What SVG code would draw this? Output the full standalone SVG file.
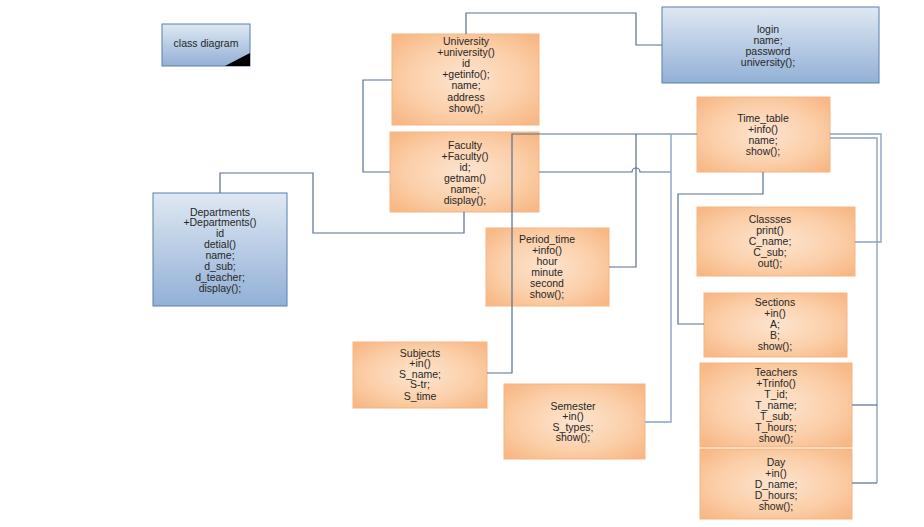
<svg xmlns="http://www.w3.org/2000/svg" width="924" height="527" viewBox="0 0 924 527">
  <defs>
    <radialGradient id="orangeFill" cx="50%" cy="50%" r="65%">
      <stop offset="0" stop-color="#fde4cf"/>
      <stop offset="0.6" stop-color="#fbcfa9"/>
      <stop offset="1" stop-color="#f8b886"/>
    </radialGradient>
    <linearGradient id="blueFill" x1="0" y1="0" x2="0" y2="1">
      <stop offset="0" stop-color="#dfe8f3"/>
      <stop offset="1" stop-color="#92b0d6"/>
    </linearGradient>
  </defs>
  <style>
    .cls rect.orange { fill: url(#orangeFill); stroke: #f5b582; stroke-width: 1; }
    .cls rect.blue { fill: url(#blueFill); stroke: #5a7ea8; stroke-width: 1; }
    .cls text { font-family: "Liberation Sans", Arial, sans-serif; font-size: 10.5px; fill: #262626; text-anchor: middle; }
    .wire { fill: none; stroke: #56708f; stroke-width: 1.2; }
    .wire.light { stroke: #8ba3c4; stroke-width: 1.4; }
  </style>
  <rect width="924" height="527" fill="#ffffff"/>

  <!-- title tag -->
  <g id="class-diagram" class="cls">
    <rect class="blue" x="162" y="24" width="88" height="42"/>
    <polygon points="225,66 250,66 250,53" fill="#000000"/>
    <text x="206" y="47">class diagram</text>
  </g>

  <g id="university" class="cls">
    <rect class="orange" x="392" y="34" width="147" height="91"/>
    <text x="466" y="44.5">University</text>
    <text x="466" y="55.7">+university()</text>
    <text x="466" y="66.9">id</text>
    <text x="466" y="78.1">+getinfo();</text>
    <text x="466" y="89.3">name;</text>
    <text x="466" y="100.5">address</text>
    <text x="466" y="111.7">show();</text>
  </g>

  <g id="login" class="cls">
    <rect class="blue" x="662" y="7" width="217" height="76"/>
    <text x="768" y="32.7">login</text>
    <text x="768" y="43.7">name;</text>
    <text x="768" y="54.7">password</text>
    <text x="768" y="65.7">university();</text>
  </g>

  <g id="faculty" class="cls">
    <rect class="orange" x="390" y="132" width="149" height="80"/>
    <text x="465" y="148.7">Faculty</text>
    <text x="465" y="159.7">+Faculty()</text>
    <text x="465" y="170.7">id;</text>
    <text x="465" y="181.7">getnam()</text>
    <text x="465" y="192.7">name;</text>
    <text x="465" y="203.7">display();</text>
  </g>

  <g id="time-table" class="cls">
    <rect class="orange" x="697" y="97" width="133" height="75"/>
    <text x="763" y="121.7">Time_table</text>
    <text x="763" y="132.7">+info()</text>
    <text x="763" y="143.7">name;</text>
    <text x="763" y="154.7">show();</text>
  </g>

  <g id="departments" class="cls">
    <rect class="blue" x="153" y="193" width="134" height="113"/>
    <text x="220" y="215.5">Departments</text>
    <text x="220" y="226.4">+Departments()</text>
    <text x="220" y="237.3">id</text>
    <text x="220" y="248.2">detial()</text>
    <text x="220" y="259.1">name;</text>
    <text x="220" y="270">d_sub;</text>
    <text x="220" y="280.9">d_teacher;</text>
    <text x="220" y="291.8">display();</text>
  </g>

  <g id="period-time" class="cls">
    <rect class="orange" x="486" y="228" width="123" height="78"/>
    <text x="547" y="242.7">Period_time</text>
    <text x="547" y="253.7">+info()</text>
    <text x="547" y="264.7">hour</text>
    <text x="547" y="275.7">minute</text>
    <text x="547" y="286.7">second</text>
    <text x="547" y="297.7">show();</text>
  </g>

  <g id="classses" class="cls">
    <rect class="orange" x="697" y="207" width="158" height="69"/>
    <text x="770" y="222.7">Classses</text>
    <text x="770" y="233.7">print()</text>
    <text x="770" y="244.7">C_name;</text>
    <text x="770" y="255.7">C_sub;</text>
    <text x="770" y="266.7">out();</text>
  </g>

  <g id="sections" class="cls">
    <rect class="orange" x="704" y="293" width="143" height="64"/>
    <text x="775" y="305.7">Sections</text>
    <text x="775" y="316.7">+in()</text>
    <text x="775" y="327.7">A;</text>
    <text x="775" y="338.7">B;</text>
    <text x="775" y="349.7">show();</text>
  </g>

  <g id="subjects" class="cls">
    <rect class="orange" x="353" y="342" width="134" height="66"/>
    <text x="420" y="356.7">Subjects</text>
    <text x="420" y="367.2">+in()</text>
    <text x="420" y="377.7">S_name;</text>
    <text x="420" y="388.2">S-tr;</text>
    <text x="420" y="400.2">S_time</text>
  </g>

  <g id="semester" class="cls">
    <rect class="orange" x="504" y="384" width="141" height="75"/>
    <text x="573" y="409.7">Semester</text>
    <text x="573" y="420">+in()</text>
    <text x="573" y="430.7">S_types;</text>
    <text x="573" y="441">show();</text>
  </g>

  <g id="teachers" class="cls">
    <rect class="orange" x="700" y="363" width="152" height="84"/>
    <text x="776" y="375.7">Teachers</text>
    <text x="776" y="386.7">+Trinfo()</text>
    <text x="776" y="397.7">T_id;</text>
    <text x="776" y="408.7">T_name;</text>
    <text x="776" y="419.7">T_sub;</text>
    <text x="776" y="430.7">T_hours;</text>
    <text x="776" y="441.7">show();</text>
  </g>

  <g id="day" class="cls">
    <rect class="orange" x="700" y="449" width="152" height="70"/>
    <text x="776" y="465.7">Day</text>
    <text x="776" y="476.7">+in()</text>
    <text x="776" y="487.7">D_name;</text>
    <text x="776" y="498.7">D_hours;</text>
    <text x="776" y="510.2">show();</text>
  </g>

  <!-- connectors -->
  <g id="connectors">
    <!-- University to login -->
    <path class="wire" d="M466,34 V13 H636 V45 H662"/>
    <!-- University to Faculty -->
    <path class="wire" d="M392,80 H363 V172 H390"/>
    <!-- Departments to Faculty -->
    <path class="wire" d="M220,193 V173 H313 V233 H464 V212"/>
    <!-- Subjects to Time_table (runs across Faculty and Period_time) -->
    <path class="wire" d="M487,373 H512 V134 H697"/>
    <!-- Period_time up to the Time_table line -->
    <path class="wire" d="M609,267 H636 V134"/>
    <!-- Faculty right side, hopping over the Period_time line -->
    <path class="wire" d="M539,172 H632 A4,4 0 0 1 640,172 H671"/>
    <!-- Semester up to the Time_table line -->
    <path class="wire light" d="M645,422 H671 V134"/>
    <!-- Time_table to Sections -->
    <path class="wire" d="M763,172 V194 H678 V324 H704"/>
    <!-- Time_table to Classses -->
    <path class="wire light" d="M830,134 H881 V242 H855"/>
    <!-- Time_table to Teachers and Day -->
    <path class="wire light" d="M830,138 H877 V483"/>
    <path class="wire" d="M852,405 H877"/>
    <path class="wire" d="M852,483 H877"/>
  </g>
</svg>
